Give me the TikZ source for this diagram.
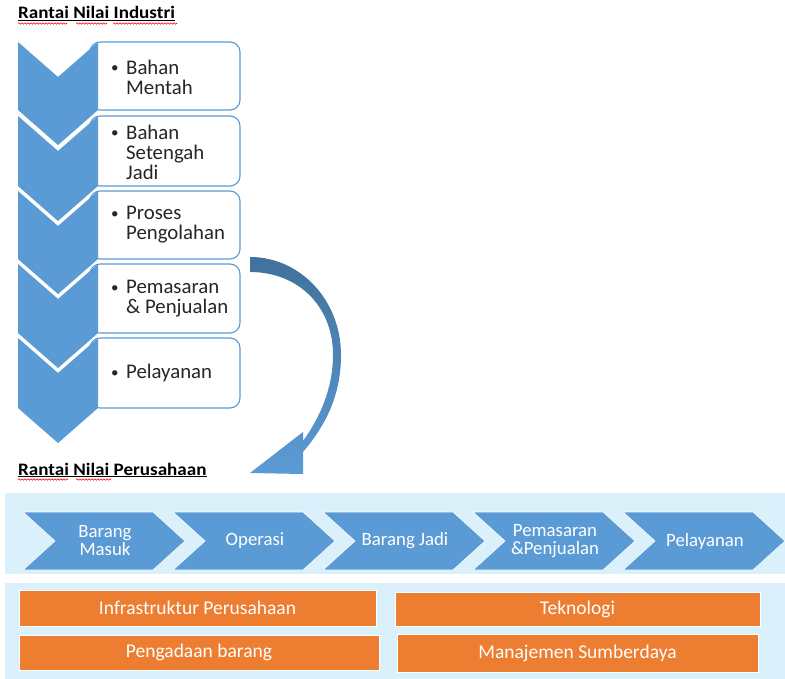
\documentclass[tikz,border=0pt]{standalone}
\usepackage{fontspec}
\setmainfont{Carlito}
\newfontfamily\titlefont{Carlito}[FakeStretch=1.09]
\usetikzlibrary{decorations.pathmorphing}
\definecolor{cblue}{HTML}{5B9BD5}
\definecolor{cdark}{HTML}{41719C}
\definecolor{cband}{RGB}{218,240,250}
\definecolor{corange}{HTML}{ED7D31}
\definecolor{ctxt}{RGB}{38,38,38}
\tikzset{
  ttl/.style={anchor=base west, inner sep=0pt, font=\titlefont\fontsize{17.5}{20}\selectfont\bfseries},
  uline/.style={line width=1.1pt, draw=black},
  squig/.style={draw=red, line width=0.6pt, decorate, decoration={snake, amplitude=0.7pt, segment length=3pt}},
  ibox/.style={draw=cblue, line width=1.1pt, fill=white, rounded corners=10pt, minimum width=150pt, inner sep=0pt},
  itxt/.style={anchor=west, inner sep=0pt, align=left, text=ctxt, font=\fontsize{20.8}{20}\selectfont},
  vchev/.style={fill=cblue},
  hchev/.style={fill=cblue, draw=white, line width=0.6pt},
  htxt/.style={text=white, align=center, inner sep=0pt, font=\fontsize{18.8}{18}\selectfont},
  band/.style={fill=cband},
  obox/.style={fill=corange, draw=white, line width=1pt, inner sep=0pt, text=white, font=\fontsize{19.5}{20}\selectfont}
}
\newcommand{\bl}{\makebox[18pt][l]{\hspace*{3pt}\raisebox{1.5pt}{\fontsize{15}{15}\selectfont\textbullet}}}
\newcommand{\ind}{\hspace*{18pt}}
\begin{document}
\begin{tikzpicture}[x=1pt,y=-1pt]
\useasboundingbox (0,0) rectangle (785,679);
\fill[white] (0,0) rectangle (785,679);

% titles
\node[ttl] (t1) at (18,19) {Rantai Nilai Industri};
\draw[uline] ([yshift=-1.6pt]t1.base west) -- ([yshift=-1.6pt]t1.base east);
\draw[squig] (18,23.5) -- (67,23.5);
\draw[squig] (76,23.5) -- (107,23.5);
\draw[squig] (113,23.5) -- (177,23.5);

% right boxes
\node[ibox, minimum height=68pt] (b1) at (165,76) {};
\node[ibox, minimum height=70pt] (b2) at (165,151) {};
\node[ibox, minimum height=68pt] (b3) at (165,225) {};
\node[ibox, minimum height=69pt] (b4) at (165,298.5) {};
\node[ibox, minimum height=70pt] (b5) at (165,373) {};

% vertical chevrons
\foreach \t/\b in {42/110,116/186,191/259,264/333,338/408}{
  \fill[vchev] (18,\t) -- (58,\t+35) -- (98,\t) -- (98,\b) -- (58,\b+35) -- (18,\b) -- cycle;
}

% box texts
\node[itxt] (x1) at (108,77) {\bl Bahan\\\ind Mentah};
\node[itxt] (x2) at (108,152) {\bl Bahan\\\ind Setengah\\\ind Jadi};
\node[itxt] (x3) at (108,225) {\bl Proses\\\ind Pengolahan};
\node[itxt] (x4) at (108,299) {\bl Pemasaran\\\ind \& Penjualan};
\node[itxt] (x5) at (108,373) {\bl Pelayanan};

% curved arrow
\shade[top color=cdark, bottom color=cblue]
  (250,257) .. controls (300,257) and (341,300) .. (341,355)
  .. controls (341,395) and (326,425) .. (303,452)
  -- (303,474) -- (250,473) -- (303,432) -- (303,441)
  .. controls (321,416) and (333,387) .. (333,355)
  .. controls (333,306) and (298,272) .. (250,272) -- cycle;

% second title
\node[ttl] (t2) at (18,475) {Rantai Nilai Perusahaan};
\draw[uline] ([yshift=-1.6pt]t2.base west) -- ([yshift=-1.6pt]t2.base east);
\draw[squig] (18,479.5) -- (68,479.5);
\draw[squig] (76,479.5) -- (111,479.5);

% bands
\fill[band] (5,493) rectangle (785,574);
\fill[band] (5,583) rectangle (785,679);

% horizontal chevrons
\foreach \i/\txt in {0/{Barang\\Masuk},1/{Operasi},2/{Barang Jadi},3/{Pemasaran\\\&Penjualan},4/{Pelayanan}}{
  \path[hchev] (23+150*\i,512) -- (55+150*\i,541) -- (23+150*\i,570) -- (153+150*\i,570)
     -- (185+150*\i,541) -- (153+150*\i,512) -- cycle;
  \node[htxt] (h\i) at (105+150*\i,541) {\txt};
}

% orange boxes
\node[obox, minimum width=357pt, minimum height=36pt] (o1) at (197.5,608) {Infrastruktur Perusahaan};
\node[obox, minimum width=360pt, minimum height=35pt] (o2) at (199,652.5) {Pengadaan barang};
\node[obox, minimum width=365pt, minimum height=34pt] (o3) at (577.5,609) {Teknologi};
\node[obox, minimum width=361pt, minimum height=38pt] (o4) at (577.5,653) {Manajemen Sumberdaya};
\end{tikzpicture}
\end{document}
